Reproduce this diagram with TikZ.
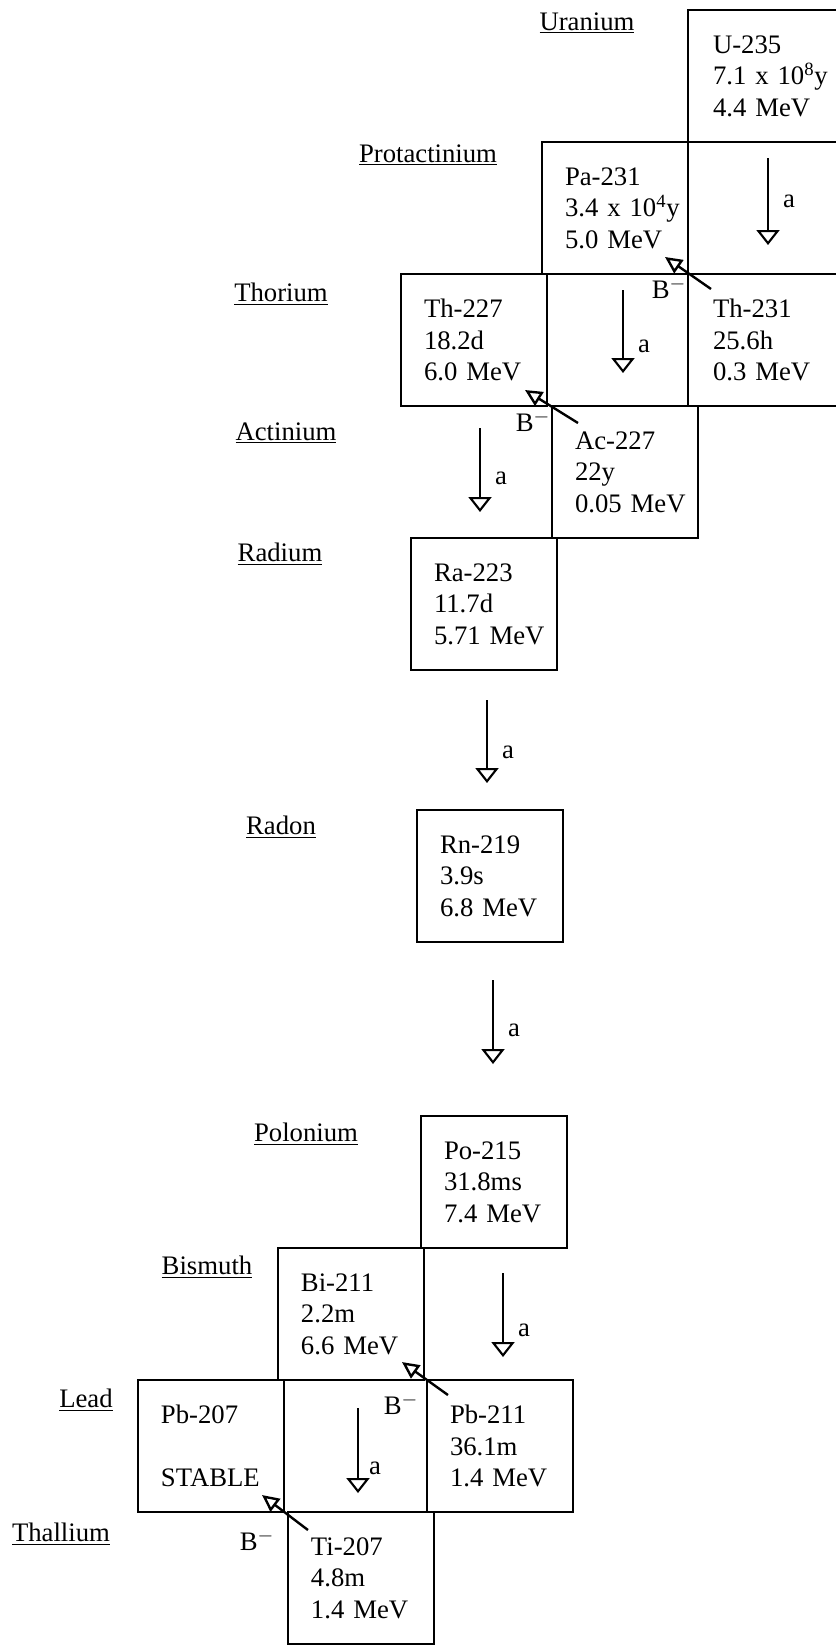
\documentclass[tikz,border=0pt]{standalone}
\usepackage{fontspec}
\setmainfont{Liberation Serif}
\usetikzlibrary{positioning,arrows.meta}

\begin{document}
\begin{tikzpicture}[x=0.25mm,y=-0.25mm,font=\fontsize{19}{22.5}\selectfont,
  nuc/.style={draw,line width=1.7pt,minimum width=36.5mm,minimum height=33mm,outer sep=0pt,
    text width=25mm,inner xsep=5.75mm,inner ysep=0pt,align=left},
  edgebox/.style={nuc,minimum width=37.5mm},
  elem/.style={inner sep=0pt},
  adecay/.style={-{Triangle[open,length=3.75mm,width=5.75mm]},line width=1.5pt},
  bdecay/.style={-{Triangle[open,length=4.25mm,width=4mm]},line width=1.7pt},
  alab/.style={pos=.55,right=3.5mm,inner sep=0pt},
  blab/.style={inner sep=0pt}]
\useasboundingbox (0,0) rectangle (835,1645);

% element names
\node[elem] (uranium) at (587,23) {\underline{Uranium}};
\node[elem] (protactinium) at (428,155) {\underline{Protactinium}};
\node[elem] (thorium) at (281,294) {\underline{Thorium}};
\node[elem] (actinium) at (286,433) {\underline{Actinium}};
\node[elem] (radium) at (280,554) {\underline{Radium}};
\node[elem] (radon) at (281,827) {\underline{Radon}};
\node[elem] (polonium) at (306,1134) {\underline{Polonium}};
\node[elem] (bismuth) at (207,1267) {\underline{Bismuth}};
\node[elem] (lead) at (86,1400) {\underline{Lead}};
\node[elem] (thallium) at (61,1534) {\underline{Thallium}};

% nuclides
\node[edgebox,anchor=north west] (U235) at (688,10) {U-235\\7.1~x~10\textsuperscript{8}y\\4.4~MeV};
\node[nuc,below left=0pt of U235] (Pa231) {Pa-231\\3.4~x~10\textsuperscript{4}y\\5.0~MeV};
\node[edgebox,below right=0pt of Pa231] (Th231) {Th-231\\25.6h\\0.3~MeV};
\node[nuc,below left=0pt of Pa231,xshift=1.25mm] (Th227) {Th-227\\18.2d\\6.0~MeV};
\node[nuc,below right=0pt of Th227,xshift=1.25mm] (Ac227) {Ac-227\\22y\\0.05~MeV};
\node[nuc,below left=0pt of Ac227,xshift=1.25mm] (Ra223) {Ra-223\\11.7d\\5.71~MeV};
\node[nuc,below=35mm of Ra223,xshift=1.5mm] (Rn219) {Rn-219\\3.9s\\6.8~MeV};
\node[nuc,below=43.5mm of Rn219,xshift=1mm] (Po215) {Po-215\\31.8ms\\7.4~MeV};
\node[nuc,below left=0pt of Po215,xshift=0.75mm] (Bi211) {Bi-211\\2.2m\\6.6~MeV};
\node[nuc,below right=0pt of Bi211,xshift=0.75mm] (Pb211) {Pb-211\\36.1m\\1.4~MeV};
\node[nuc,below left=0pt of Bi211,xshift=1.5mm] (Pb207) {Pb-207\\~\\STABLE};
\node[nuc,below right=0pt of Pb207,xshift=1mm] (Ti207) {Ti-207\\4.8m\\1.4~MeV};

% alpha decays
\draw[adecay,shorten <=4mm,shorten >=7.25mm] ([xshift=1.25mm]U235.south) -- ([xshift=1.25mm]U235.south |- Th231.north) node[alab,pos=.45] {a};
\draw[adecay,shorten <=4mm,shorten >=8.25mm] ([xshift=2mm]Pa231.south) -- ([xshift=2mm]Pa231.south |- Ac227.north) node[alab] {a};
\draw[adecay,shorten <=5.5mm,shorten >=6.5mm] ([xshift=1.5mm]Th227.south) -- ([xshift=1.5mm]Th227.south |- Ra223.north) node[alab] {a};
\draw[adecay,shorten <=7.5mm,shorten >=6.75mm] ([xshift=0.75mm]Ra223.south) -- ([xshift=0.75mm]Ra223.south |- Rn219.north) node[alab,pos=.59] {a};
\draw[adecay,shorten <=9.5mm,shorten >=13mm] ([xshift=0.75mm]Rn219.south) -- ([xshift=0.75mm]Rn219.south |- Po215.north) node[alab,pos=.51] {a};
\draw[adecay,shorten <=6.25mm,shorten >=5.75mm] ([xshift=2.25mm]Po215.south) -- ([xshift=2.25mm]Po215.south |- Pb211.north) node[alab,pos=.62] {a};
\draw[adecay,shorten <=7mm,shorten >=4.75mm] ([xshift=1.75mm]Bi211.south) -- ([xshift=1.75mm]Bi211.south |- Ti207.north) node[alab,pos=.67,right=2.5mm] {a};

% beta decays
\draw[bdecay] ([shift={(23,15)}]Th231.north west) -- ([shift={(-23,-17)}]Pa231.south east);
\draw[bdecay] ([shift={(26,17)}]Ac227.north west) -- ([shift={(-22,-16)}]Th227.south east);
\draw[bdecay] ([shift={(21,15)}]Pb211.north west) -- ([shift={(-22,-18)}]Bi211.south east);
\draw[bdecay] ([shift={(20,18)}]Ti207.north west) -- ([shift={(-22,-17)}]Pb207.south east);
\node[blab] (bPa) at ([shift={(-19,14)}]Pa231.south east) {B$^{-}$};
\node[blab] (bTh) at ([shift={(-14,15)}]Th227.south east) {B$^{-}$};
\node[blab] (bBi) at ([shift={(-23,24)}]Bi211.south east) {B$^{-}$};
\node[blab] (bPb) at ([shift={(-27,28)}]Pb207.south east) {B$^{-}$};
\end{tikzpicture}
\end{document}
